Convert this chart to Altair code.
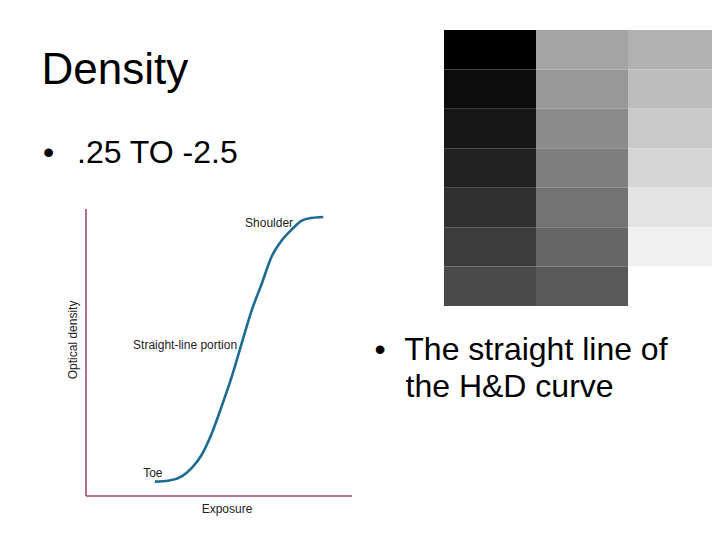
import altair as alt
import pandas as pd

# ---- H&D curve (exposure vs optical density, arbitrary units) ----
exposure = [2.59, 3.09, 3.60, 3.97, 4.35, 4.73, 5.10, 5.48, 5.85, 6.23, 6.61, 6.98, 7.36, 7.73, 8.11, 8.48, 8.92]
density = [0.16, 0.17, 0.22, 0.31, 0.46, 0.70, 1.00, 1.33, 1.70, 2.07, 2.37, 2.67, 2.85, 2.97, 3.07, 3.10, 3.11]

label_text = ["Shoulder", "Straight-line portion", "Toe"]
label_x = [5.98, 1.77, 2.15]
label_y = [3.00, 1.64, 0.215]

x_axis_max = 10
y_axis_max = 3.2

# ---- grayscale step wedge (gray levels 0-255, column by column, top to bottom) ----
col1 = [0, 12, 23, 34, 47, 59, 74]
col2 = [164, 152, 139, 127, 115, 102, 89]
col3 = [177, 189, 202, 214, 227, 240, 255]

title_text = "Density"
bullet1_text = ".25 TO -2.5"
bullet2_lines = ["The straight line of", "the H&D curve"]

FONT = "Liberation Sans"

# ---- tables ----
curve_df = pd.DataFrame({"exposure": exposure, "density": density})
labels_df = pd.DataFrame({"label": label_text, "exposure": label_x, "density": label_y})
axes_df = pd.DataFrame({"exposure": [0, 0], "exposure2": [0, x_axis_max],
                        "density": [0, 0], "density2": [y_axis_max, 0]})

rows = []
for c, col in enumerate([col1, col2, col3]):
    for r, g in enumerate(col):
        rows.append({"col": c, "col_end": c + 1, "row": r, "row_end": r + 1,
                     "color": "#{0:02x}{0:02x}{0:02x}".format(g)})
blocks_df = pd.DataFrame(rows)

XS = alt.Scale(domain=[0, 10], range=[78, 344], zero=False, nice=False)
YS = alt.Scale(domain=[0, 3.2], range=[488, 201], zero=False, nice=False)

axis_lines = alt.Chart(axes_df).mark_rule(color="#a04a6a", strokeWidth=1.6).encode(
    x=alt.X("exposure:Q", scale=XS, axis=None),
    x2="exposure2:Q",
    y=alt.Y("density:Q", scale=YS, axis=None),
    y2="density2:Q",
)

curve = alt.Chart(curve_df).mark_line(color="#1d6a92", strokeWidth=2.6, interpolate="monotone").encode(
    x=alt.X("exposure:Q", scale=XS, axis=None),
    y=alt.Y("density:Q", scale=YS, axis=None),
)

labels = alt.Chart(labels_df).mark_text(
    align="left", baseline="alphabetic", fontSize=12, font=FONT, color="#222222"
).encode(
    x=alt.X("exposure:Q", scale=XS, axis=None),
    y=alt.Y("density:Q", scale=YS, axis=None),
    text="label:N",
)

x_title = alt.Chart(pd.DataFrame({"t": ["Exposure"], "exposure": [5.30], "density": [-0.19]})).mark_text(
    align="center", baseline="alphabetic", fontSize=12, font=FONT, color="#222222"
).encode(
    x=alt.X("exposure:Q", scale=XS, axis=None),
    y=alt.Y("density:Q", scale=YS, axis=None),
    text="t:N",
)

y_title = alt.Chart(pd.DataFrame({"t": ["Optical density"], "exposure": [-0.34], "density": [1.74]})).mark_text(
    align="center", baseline="alphabetic", fontSize=12, font=FONT, color="#222222", angle=270
).encode(
    x=alt.X("exposure:Q", scale=XS, axis=None),
    y=alt.Y("density:Q", scale=YS, axis=None),
    text="t:N",
)

hd_chart = alt.layer(axis_lines, curve, labels, x_title, y_title)

blocks = alt.Chart(blocks_df).mark_rect(strokeWidth=0).encode(
    x=alt.X("col:Q", scale=alt.Scale(domain=[0, 3], range=[436, 712], zero=False, nice=False), axis=None),
    x2="col_end:Q",
    y=alt.Y("row:Q", scale=alt.Scale(domain=[0, 7], range=[22, 298], zero=False, nice=False), axis=None),
    y2="row_end:Q",
    color=alt.Color("color:N", scale=None),
)


def slide_text(txt, x, y, size):
    return alt.Chart(pd.DataFrame({"t": [txt]})).mark_text(
        align="left", baseline="alphabetic", fontSize=size, font=FONT, color="#000000"
    ).encode(x=alt.value(x), y=alt.value(y), text="t:N")


texts = alt.layer(
    slide_text(title_text, 33.5, 75.5, 44),
    slide_text("\u2022", 35, 154.7, 32),
    slide_text(bullet1_text, 69, 154.7, 32),
    slide_text("\u2022", 366.5, 352, 32),
    slide_text(bullet2_lines[0], 396.3, 352, 32),
    slide_text(bullet2_lines[1], 397.5, 388.7, 32),
)

chart = alt.layer(blocks, hd_chart, texts).resolve_scale(
    x="independent", y="independent"
).properties(
    width=704, height=524, padding=0, autosize=alt.AutoSizeParams(type="none"),
    background="#ffffff",
).configure_view(stroke=None)

chart.save("out.html", embed_options={"renderer": "svg", "actions": False})
